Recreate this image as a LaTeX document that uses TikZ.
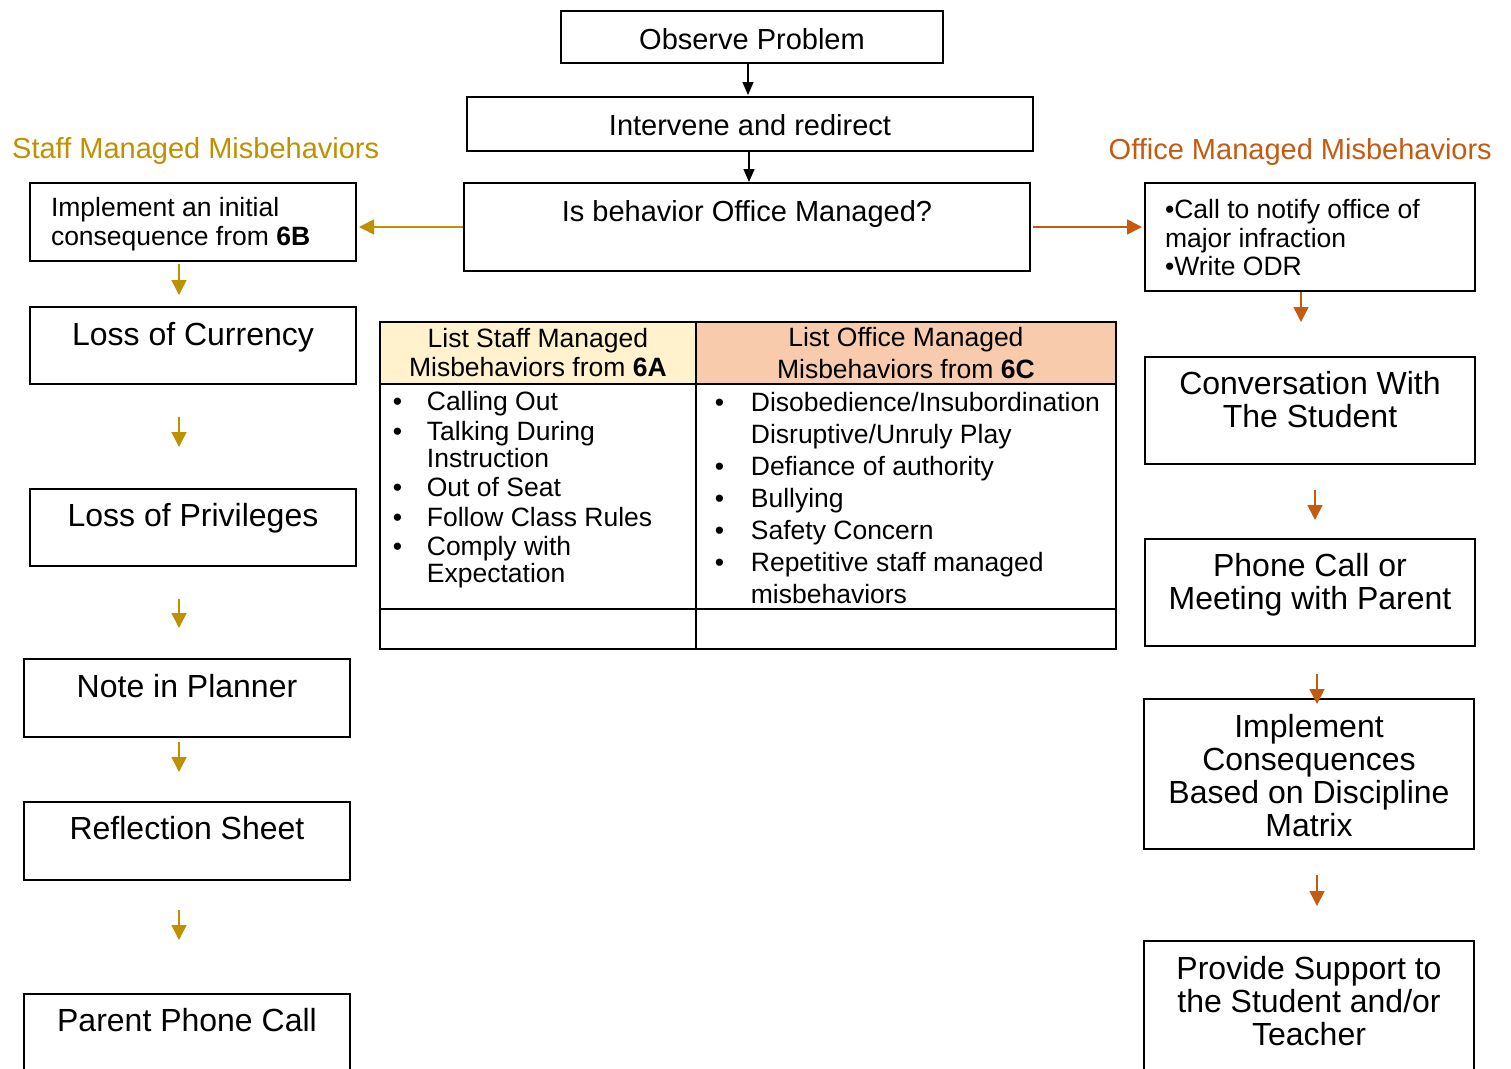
\documentclass[tikz,border=0pt]{standalone}
\usepackage{fontspec}
\setmainfont{Liberation Sans}
\usetikzlibrary{arrows.meta}
\definecolor{staffgold}{HTML}{BF9000}
\definecolor{officeorange}{HTML}{C55A11}
\definecolor{staffhead}{HTML}{FFF2CC}
\definecolor{officehead}{HTML}{F8CBAD}
% box text: width, height, first baseline, alignment, text
\newcommand{\boxtxt}[5]{\parbox[t][#2pt][t]{#1pt}{#4\rule{0pt}{#3pt}#5}}
% bullet item: bullet gap, text
\newcommand{\itm}[2]{\leavevmode\llap{\makebox[#1pt][l]{\textbullet}}#2\par}
\begin{document}
\begin{tikzpicture}[%
	    x=1pt, y=-1pt,
	    >={Triangle[length=15pt,width=15pt]},
	    flowbox/.style={draw, line width=2pt, inner sep=0pt, anchor=north west},
	    cell/.style={flowbox, line width=1.8pt},
	    bigtxt/.style={font=\fontsize{32}{33}\selectfont},
	    midtxt/.style={font=\fontsize{29}{33}\selectfont},
	    smalltxt/.style={font=\fontsize{26.5}{28.5}\selectfont},
	    tabtxt/.style={font=\fontsize{26.5}{27}\selectfont},
	    staff/.style={color=staffgold, line width=1.6pt},
	    office/.style={color=officeorange, line width=1.6pt}
	  ]

  \useasboundingbox (0,0) rectangle (1511,1068);

	  % middle
	  \node[flowbox, midtxt] (OP) at (560,10) {\boxtxt{382}{52}{38.4}{\centering}{Observe Problem}};
	  \node[flowbox, midtxt] (IR) at (466,96) {\boxtxt{566}{54}{38.4}{\centering}{Intervene and redirect}};
	  \node[flowbox, midtxt] (OM) at (463,182) {\boxtxt{566}{88}{38.4}{\centering}{Is behavior Office Managed?}};

	  \node[midtxt, text=staffgold, anchor=base west, inner sep=0pt] (ST) at (12,158.5) {Staff Managed Misbehaviors};
	  \node[midtxt, text=officeorange, anchor=base east, inner sep=0pt] (OT) at (1492,159.5) {Office Managed Misbehaviors};

	  % staff managed
	  \node[flowbox, smalltxt] (S0) at (29,182) {\boxtxt{326}{78}{33.5}{\raggedright\leftskip=21pt}{Implement an initial\\consequence from \textbf{6B}}};
	  \node[flowbox, bigtxt] (S1) at (29,306) {\boxtxt{326}{77}{38}{\centering}{Loss of Currency}};
	  \node[flowbox, bigtxt] (S2) at (29,488) {\boxtxt{326}{77}{37}{\centering}{Loss of Privileges}};
	  \node[flowbox, bigtxt] (S3) at (23,658) {\boxtxt{326}{78}{38}{\centering}{Note in Planner}};
	  \node[flowbox, bigtxt] (S4) at (23,801) {\boxtxt{326}{78}{37}{\centering}{Reflection Sheet}};
	  \node[flowbox, bigtxt] (S5) at (23,993) {\boxtxt{326}{90}{37}{\centering}{Parent Phone Call}};

	  % office managed
	  \node[flowbox, smalltxt] (O0) at (1144,182) {\boxtxt{330}{108}{35.5}{\raggedright\leftskip=20pt}{\textbullet Call to notify office of\\major infraction\\\textbullet Write ODR}};
	  \node[flowbox, bigtxt] (O1) at (1144,356) {\boxtxt{330}{107}{37.5}{\centering}{Conversation With\\The Student}};
	  \node[flowbox, bigtxt] (O2) at (1144,538) {\boxtxt{330}{107}{37.5}{\centering}{Phone Call or\\Meeting with Parent}};
	  \node[flowbox, bigtxt] (O3) at (1143,698) {\boxtxt{330}{150}{38.5}{\centering}{Implement\\Consequences\\Based on Discipline\\Matrix}};
	  \node[flowbox, bigtxt] (O4) at (1143,940) {\boxtxt{330}{140}{38.5}{\centering}{Provide Support to\\the Student and/or\\Teacher}};

	  % table
	  \node[cell, fill=staffhead, font=\fontsize{26.5}{29}\selectfont] (TL) at (379,321) {\boxtxt{316}{62}{25.5}{\centering}{List Staff Managed\\Misbehaviors from \textbf{6A}}};
	  \node[cell, fill=officehead, font=\fontsize{26.5}{31.5}\selectfont] (TR) at (695,321) {\boxtxt{420}{62}{25}{\centering}{List Office Managed\\Misbehaviors from \textbf{6C}}};
	  \node[cell, tabtxt] (BL) at (379,383) {\boxtxt{316}{225}{27}{\leftskip=47pt\parskip=2.5pt}{\itm{34}{Calling Out}\itm{34}{Talking During\\Instruction}\itm{34}{Out of Seat}\itm{34}{Follow Class Rules}\itm{34}{Comply with\\Expectation}}};
	  \node[cell, font=\fontsize{26.5}{32}\selectfont] (BR) at (695,383) {\boxtxt{420}{225}{28}{\leftskip=55pt}{\itm{36}{Disobedience/Insubordination\\Disruptive/Unruly Play}\itm{36}{Defiance of authority}\itm{36}{Bullying}\itm{36}{Safety Concern}\itm{36}{Repetitive staff managed\\misbehaviors}}};
	  \node[cell, minimum width=316pt, minimum height=40pt] (FL) at (379,608) {};
	  \node[cell, minimum width=420pt, minimum height=40pt] (FR) at (695,608) {};

	  \path[->, >={Triangle[length=13pt,width=11pt]}, line width=1.3pt]
	      ([xshift=-4pt]OP.south) edge [shorten >=1pt] ([xshift=-4pt]OP.south |- IR.north)
	      ([xshift=-1pt]IR.south) edge ([xshift=-1pt]IR.south |- OM.north);

	  \path[->, staff]
	      (OM.west)               edge [shorten >=2pt] (OM.west -| S0.east)
	      ([xshift=-14pt]S0.south) edge [shorten <=2pt, shorten >=11pt] ([xshift=-14pt]S0.south |- S1.north)
	      ([xshift=-14pt]S1.south) edge [shorten <=32pt, shorten >=41pt] ([xshift=-14pt]S1.south |- S2.north)
	      ([xshift=-14pt]S2.south) edge [shorten <=32pt, shorten >=30pt] ([xshift=-14pt]S2.south |- S3.north)
	      ([xshift=-8pt]S3.south)  edge [shorten <=4pt, shorten >=29pt] ([xshift=-8pt]S3.south |- S4.north)
	      ([xshift=-8pt]S4.south)  edge [shorten <=29pt, shorten >=53pt] ([xshift=-8pt]S4.south |- S5.north);

	  \path[->, office]
	      (OM.east)               edge [shorten <=2pt, shorten >=2pt] (OM.east -| O0.west)
	      ([xshift=-9pt]O0.south)  edge [shorten >=34pt] ([xshift=-9pt]O0.south |- O1.north)
	      ([xshift=5pt]O1.south)   edge [shorten <=25pt, shorten >=18pt] ([xshift=5pt]O1.south |- O2.north)
	      ([xshift=7pt]O2.south)   edge [shorten <=27pt, shorten >=-6pt] ([xshift=7pt]O2.south |- O3.north)
	      ([xshift=8pt]O3.south)   edge [shorten <=25pt, shorten >=34pt] ([xshift=8pt]O3.south |- O4.north);

      \end{tikzpicture}
\end{document}
